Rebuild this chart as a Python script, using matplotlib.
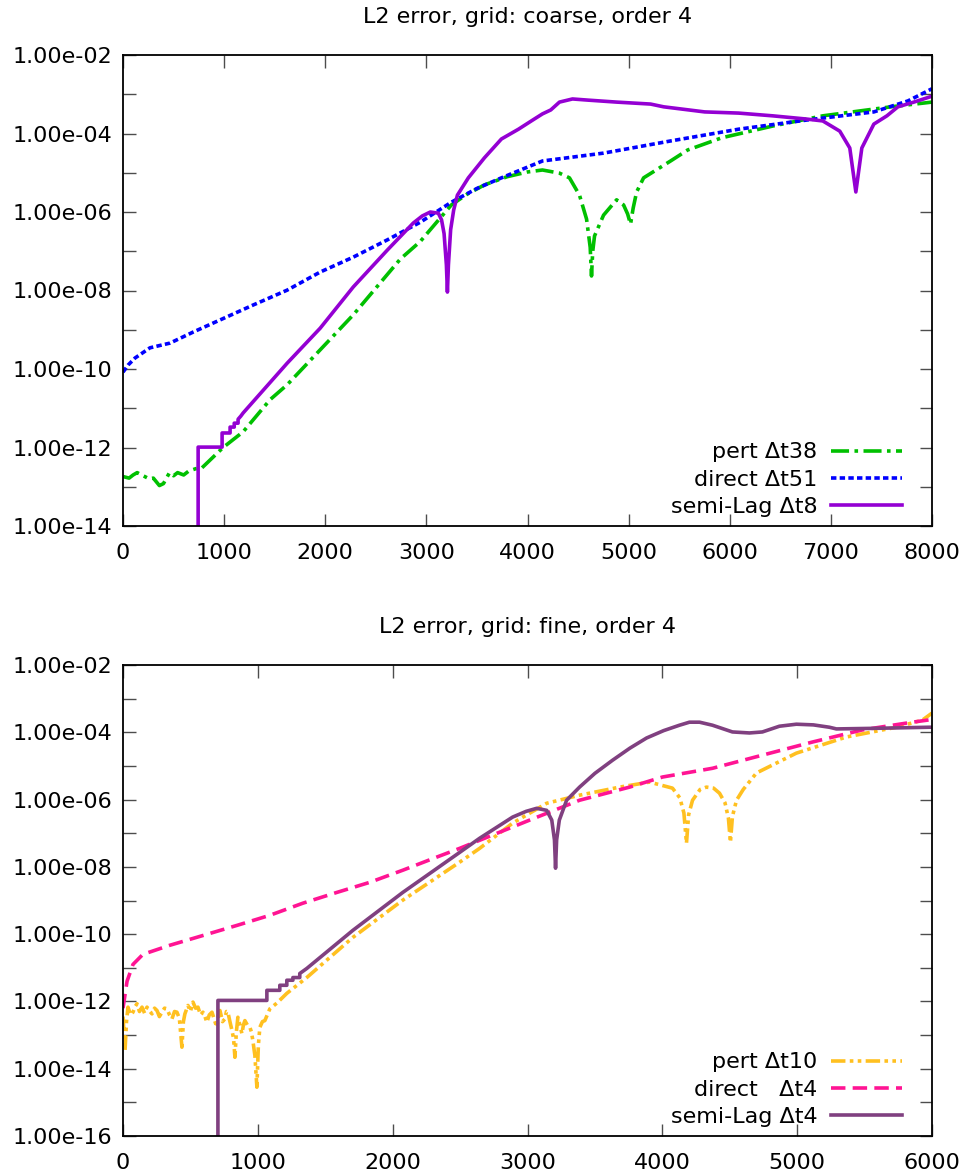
import numpy as np
import matplotlib
matplotlib.use("Agg")
import matplotlib.pyplot as plt
from matplotlib.ticker import FixedLocator, FuncFormatter, NullLocator

# ---------------- data: top panel (grid coarse) ----------------
coarse_title = "L2 error, grid: coarse, order 4"
coarse_xticks = [0, 1000, 2000, 3000, 4000, 5000, 6000, 7000, 8000]

pert38_x = [0, 60, 100, 140, 200, 260, 300, 360, 400, 460, 500, 540, 600, 650, 720, 780,
            990, 1188, 1455, 1624, 2277, 2742, 2940, 3247, 3400, 3574, 3800, 4000, 4148, 4316,
            4415, 4514, 4584, 4620, 4633, 4645, 4663, 4752, 4881, 4950, 4990, 5019, 5045, 5079,
            5148, 5415, 5584, 5920, 6425, 6920, 7594, 8000]
pert38_log = [-12.74, -12.78, -12.70, -12.64, -12.72, -12.80, -12.78, -12.97, -12.92, -12.64,
              -12.72, -12.64, -12.70, -12.60, -12.54, -12.52,
              -12.0, -11.6, -10.78, -10.4, -8.62, -7.2, -6.75, -5.82, -5.55, -5.31, -5.1, -4.98,
              -4.93, -5.01, -5.13, -5.57, -6.18, -6.9, -7.63, -7.0, -6.61, -6.08, -5.69, -5.82,
              -6.05, -6.31, -5.9, -5.49, -5.13, -4.7, -4.42, -4.11, -3.81, -3.55, -3.32, -3.2]

direct51_x = [0, 50, 119, 267, 465, 693, 960, 1287, 1624, 1950, 2277, 2614, 2940, 3247, 3500,
              3742, 4148, 4752, 5415, 6088, 6752, 7425, 7762, 8000]
direct51_log = [-10.08, -9.9, -9.72, -9.46, -9.34, -9.06, -8.75, -8.37, -7.99, -7.53, -7.15,
                -6.71, -6.26, -5.75, -5.4, -5.13, -4.7, -4.5, -4.19, -3.89, -3.66, -3.45, -3.17,
                -2.86]

slag8_x = [743, 743, 980, 980, 1059, 1059, 1100, 1100, 1138, 1138, 1165, 1188, 1624, 1950, 2277,
           2614, 2871, 2960, 3039, 3118, 3150, 3175, 3198, 3208, 3218, 3240, 3270, 3307, 3415,
           3574, 3742, 3911, 4050, 4148, 4230, 4316, 4445, 4600, 4881, 5217, 5346, 5752, 6088,
           6425, 6752, 6920, 7088, 7187, 7247, 7306, 7425, 7554, 7663, 7821, 8000]
slag8_log = [-20.0, -11.99, -11.99, -11.63, -11.63, -11.48, -11.48, -11.38, -11.38, -11.28, -11.2,
             -11.12, -9.85, -8.96, -7.91, -6.97, -6.28, -6.1, -6.0, -6.03, -6.2, -6.55, -7.35,
             -8.04, -7.35, -6.45, -5.95, -5.57, -5.13, -4.62, -4.14, -3.89, -3.66, -3.5, -3.4,
             -3.2, -3.12, -3.15, -3.2, -3.25, -3.32, -3.45, -3.48, -3.55, -3.63, -3.68, -3.94,
             -4.37, -5.49, -4.37, -3.76, -3.55, -3.32, -3.2, -3.05]

# ---------------- data: bottom panel (grid fine) ----------------
fine_title = "L2 error, grid: fine, order 4"
fine_xticks = [0, 1000, 2000, 3000, 4000, 5000, 6000]

pert10_x = [0, 15, 26, 37, 56, 74, 90, 104, 122, 141, 160, 178, 196, 215, 234, 252, 270, 289,
            308, 326, 345, 363, 382, 400, 418, 437, 448, 459, 470, 482, 500, 519, 538, 556, 575,
            593, 608, 622, 640, 660, 678, 696, 708, 719, 738, 756, 767, 778, 793, 808, 820, 830,
            841, 852, 867, 882, 893, 904, 922, 941, 952, 963, 978, 993, 1004, 1015, 1034, 1052,
            1070, 1089, 1141, 1215, 1363, 1704, 2075, 2497, 2645, 2890, 3142, 3386, 3683, 3905,
            4075, 4130, 4160, 4179, 4195, 4224, 4280, 4327, 4380, 4424, 4465, 4490, 4505, 4520,
            4550, 4600, 4698, 4994, 5365, 5735, 5928, 6000]
pert10_log = [-12.45, -13.46, -12.6, -12.17, -12.4, -12.32, -12.15, -12.07, -12.3, -12.17, -12.35,
              -12.17, -12.28, -12.37, -12.2, -12.27, -12.45, -12.32, -12.2, -12.22, -12.4, -12.52,
              -12.3, -12.32, -12.5, -13.36, -12.6, -12.37, -12.25, -12.12, -12.3, -12.02, -12.2,
              -12.17, -12.4, -12.32, -12.45, -12.62, -12.4, -12.32, -12.55, -12.77, -12.4, -12.27,
              -12.6, -12.52, -12.3, -12.32, -12.6, -12.86, -13.1, -13.66, -12.9, -12.47, -12.7,
              -12.96, -12.7, -12.57, -12.7, -12.77, -12.9, -13.16, -13.6, -14.55, -13.3, -12.77,
              -12.6, -12.57, -12.4, -12.22, -12.05, -11.76, -11.29, -10.1, -8.99, -7.86, -7.45,
              -6.7, -6.11, -5.87, -5.63, -5.48, -5.66, -5.95, -6.4, -7.3, -6.45, -6.02, -5.7,
              -5.63, -5.66, -5.81, -6.1, -6.55, -7.27, -6.5, -6.02, -5.7, -5.21, -4.62, -4.14,
              -3.85, -3.64, -3.43]

direct4_x = [0, 30, 74, 148, 348, 593, 845, 1089, 1334, 1586, 1830, 2075, 2327, 2497, 2645, 3016,
             3386, 3757, 4001, 4372, 4742, 5113, 5483, 5854, 6000]
direct4_log = [-12.2, -11.4, -10.9, -10.6, -10.33, -10.04, -9.74, -9.44, -9.08, -8.76, -8.46,
               -8.1, -7.71, -7.45, -7.21, -6.61, -6.02, -5.63, -5.33, -5.07, -4.68, -4.29, -3.93,
               -3.7, -3.62]

slag4_x = [704, 704, 1067, 1067, 1163, 1163, 1215, 1215, 1260, 1260, 1311, 1311, 1363, 1704, 2075,
           2497, 2645, 2890, 2990, 3068, 3142, 3180, 3200, 3208, 3216, 3236, 3290, 3386, 3500,
           3631, 3760, 3883, 4010, 4127, 4201, 4276, 4372, 4520, 4646, 4742, 4868, 4994, 5120,
           5239, 5291, 5609, 5980, 6000]
slag4_log = [-20.0, -11.97, -11.97, -11.67, -11.67, -11.52, -11.52, -11.37, -11.37, -11.29, -11.29,
             -11.17, -11.02, -9.89, -8.76, -7.57, -7.15, -6.52, -6.35, -6.26, -6.32, -6.61, -7.2,
             -8.04, -7.2, -6.61, -6.02, -5.63, -5.22, -4.83, -4.47, -4.17, -3.95, -3.79, -3.7,
             -3.7, -3.79, -3.99, -4.02, -3.99, -3.82, -3.76, -3.78, -3.85, -3.9, -3.88, -3.85,
             -3.85]

# ---------------- drawing ----------------
W, H = 968, 1176
fig = plt.figure(figsize=(W / 100, H / 100), dpi=100)
FS = 16

ax1 = fig.add_axes([123 / W, 1 - 526 / H, 809 / W, 471 / H])
ax2 = fig.add_axes([123 / W, 1 - 1136 / H, 809 / W, 471 / H])

LW = 2.6


def ylab(v, _):
    e = int(round(np.log10(v)))
    return f"{v:.2e}" if e % 2 == 0 else ""


def style(ax, title, xticks, ymin_exp):
    ax.set_yscale("log")
    ax.set_xlim(xticks[0], xticks[-1])
    ax.set_ylim(10.0 ** ymin_exp, 1e-2)
    ax.xaxis.set_major_locator(FixedLocator(xticks))
    ax.yaxis.set_major_locator(FixedLocator([10.0 ** e for e in range(ymin_exp, -1)]))
    ax.yaxis.set_minor_locator(NullLocator())
    ax.xaxis.set_minor_locator(NullLocator())
    ax.yaxis.set_major_formatter(FuncFormatter(ylab))
    ax.tick_params(direction="in", length=9, width=1.0, color="0.3", labelsize=FS,
                   top=True, right=True, pad=8)
    ax.tick_params(axis="x", pad=12)
    for s in ax.spines.values():
        s.set_linewidth(1.3)
    ax.set_title(title, fontsize=FS, pad=23)


ax1.plot(pert38_x, 10.0 ** np.array(pert38_log), color="#00c000", lw=LW,
         dashes=(5, 1.5, 1, 1.5), label="pert \u0394t38")
ax1.plot(direct51_x, 10.0 ** np.array(direct51_log), color="#0000ff", lw=LW,
         dashes=(1.5, 0.9), label="direct \u0394t51")
ax1.plot(slag8_x, 10.0 ** np.array(slag8_log), color="#9400d3", lw=LW,
         label="semi-Lag \u0394t8")
style(ax1, coarse_title, coarse_xticks, -14)

ax2.plot(pert10_x, 10.0 ** np.array(pert10_log), color="#ffc020", lw=LW,
         dashes=(4, 1.2, 1, 1.2, 1, 1.2), label="pert \u0394t10")
ax2.plot(direct4_x, 10.0 ** np.array(direct4_log), color="#ff1493", lw=LW,
         dashes=(4.0, 2.0), label="direct   \u0394t4")
ax2.plot(slag4_x, 10.0 ** np.array(slag4_log), color="#804080", lw=LW,
         label="semi-Lag \u0394t4")
style(ax2, fine_title, fine_xticks, -16)

for ax in (ax1, ax2):
    ax.legend(loc="lower right", bbox_to_anchor=(1 - 17.0 / 809, -4.0 / 471), frameon=False,
              markerfirst=False, fontsize=FS, handlelength=3.2, handletextpad=0.6,
              labelspacing=0.32, borderaxespad=0.0, borderpad=0.6)

fig.savefig("out.png", dpi=100)
